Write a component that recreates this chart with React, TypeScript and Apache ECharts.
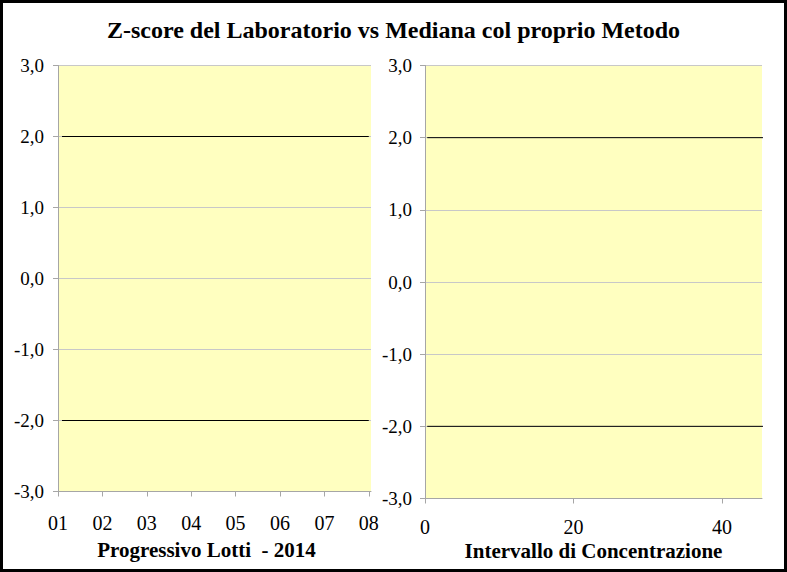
import React, { useEffect, useRef } from "react";
import * as echarts from "echarts";

const titleText = "Z-score del Laboratorio vs Mediana col proprio Metodo";
const leftAxisName = "Progressivo Lotti  - 2014";
const rightAxisName = "Intervallo di Concentrazione";
const lotLabels = ["01", "02", "03", "04", "05", "06", "07", "08"];
const controlLimits = [2, -2];
const lotSpan = [1.09, 8.0];
const concSpan = [0.3, 46.3];
const lotAxis = { min: 1, max: 8.05 };
const concAxis = { min: 0, max: 45.4, interval: 20 };
const zAxis = { min: -3, max: 3, interval: 1 };

const FONT = "Liberation Serif";

export default function App() {
  const ref = useRef<HTMLDivElement>(null);
  useEffect(() => {
    if (!ref.current) return;
    const chart = echarts.init(ref.current, null, { renderer: "svg" });
    const yAxisBase = (gridIndex: number, margin: number) => ({
      type: "value",
      gridIndex,
      min: zAxis.min,
      max: zAxis.max,
      interval: zAxis.interval,
      axisLine: { show: true, onZero: false, lineStyle: { color: "#a6a6a6", width: 1 } },
      axisTick: { show: true, length: 5, lineStyle: { color: "#a6a6a6" } },
      axisLabel: {
        margin,
        color: "#000",
        fontFamily: FONT,
        fontSize: 19,
        formatter: (v: number) => v.toFixed(1).replace(".", ","),
      },
      splitLine: { show: true, lineStyle: { color: "#c8c8c8", width: 1 } },
    });
    const limitSeries = (xAxisIndex: number, span: number[], clip: boolean) =>
      controlLimits.map((lim) => ({
        type: "line",
        xAxisIndex,
        yAxisIndex: xAxisIndex,
        data: span.map((x) => [x, lim]),
        symbol: "none",
        clip,
        lineStyle: { color: "#000", width: 1 },
        silent: true,
      }));
    const nameStyle = { fontFamily: FONT, fontSize: 21, lineHeight: 21, fontWeight: "bold", color: "#000", verticalAlign: "top" };
    chart.setOption({
      animation: false,
      backgroundColor: "#fff",
      title: {
        text: titleText,
        left: "center",
        top: 13,
        textStyle: { fontFamily: FONT, fontSize: 24, fontWeight: "bold", color: "#000" },
      },
      grid: [
        { left: 58, right: 787 - 371, top: 65.5, bottom: 572 - 491.5, show: true, backgroundColor: "#ffffc0", borderWidth: 0 },
        { left: 425, right: 787 - 762, top: 65.5, bottom: 572 - 498.5, show: true, backgroundColor: "#ffffc0", borderWidth: 0 },
      ],
      xAxis: [
        {
          type: "value",
          gridIndex: 0,
          min: lotAxis.min,
          max: lotAxis.max,
          interval: 1,
          axisLine: { show: true, onZero: false, lineStyle: { color: "#a6a6a6" } },
          axisTick: { show: true, length: 5, lineStyle: { color: "#a6a6a6" } },
          splitLine: { show: false },
          axisLabel: {
            margin: 22,
            color: "#000",
            fontFamily: FONT,
            fontSize: 20,
            lineHeight: 18,
            formatter: (v: number) => lotLabels[Math.round(v) - 1] ?? "",
          },
          name: leftAxisName,
          nameLocation: "middle",
          nameGap: 48,
          nameMoveOverlap: false,
          nameTextStyle: { ...nameStyle, padding: [0, 16, 0, 0] },
        },
        {
          type: "value",
          gridIndex: 1,
          min: concAxis.min,
          max: concAxis.max,
          interval: concAxis.interval,
          axisLine: { show: true, onZero: false, lineStyle: { color: "#a6a6a6" } },
          axisTick: { show: true, length: 5, lineStyle: { color: "#a6a6a6" } },
          splitLine: { show: false },
          axisLabel: { margin: 19, color: "#000", fontFamily: FONT, fontSize: 20, lineHeight: 18, showMaxLabel: false },
          name: rightAxisName,
          nameLocation: "middle",
          nameGap: 42,
          nameMoveOverlap: false,
          nameTextStyle: nameStyle,
        },
      ],
      yAxis: [yAxisBase(0, 14), yAxisBase(1, 13)],
      series: [...limitSeries(0, lotSpan, true), ...limitSeries(1, concSpan, false)],
      graphic: [
        {
          type: "rect",
          shape: { x: 1.5, y: 1.5, width: 784, height: 569 },
          style: { fill: "none", stroke: "#000", lineWidth: 3 },
          silent: true,
        },
      ],
    });
    return () => chart.dispose();
  }, []);
  return <div ref={ref} style={{ position: "fixed", left: 0, top: 0, width: 787, height: 572 }} />;
}
